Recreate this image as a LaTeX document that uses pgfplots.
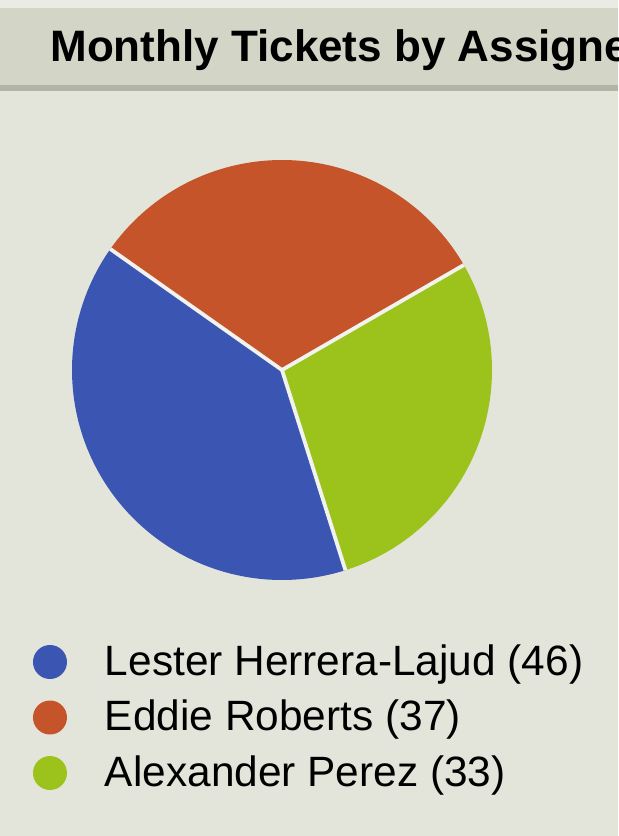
\documentclass[border=0pt]{standalone}
\usepackage{pgfplots}
\pgfplotsset{compat=1.18}
\usepgfplotslibrary{polar}
\usepackage{fontspec}
\setmainfont{Liberation Sans}
\definecolor{bgc}{HTML}{E4E5DA}
\definecolor{hdr}{HTML}{D3D5C6}
\definecolor{topc}{HTML}{EAEBE4}
\definecolor{hline}{HTML}{B2B4A5}
\definecolor{sepc}{HTML}{F2F3EE}
\definecolor{cblue}{HTML}{3B55B3}
\definecolor{corange}{HTML}{C5542B}
\definecolor{cgreen}{HTML}{9BC31C}
\begin{document}
\begin{tikzpicture}[x=1pt,y=1pt]
% background and header (1px = 0.5pt)
\fill[bgc] (0,0) rectangle (309,418);
\fill[topc] (0,414) rectangle (309,418);
\fill[hdr] (0,375.5) rectangle (309,414);
\fill[hline] (0,372.5) rectangle (309,375.5);
\path[use as bounding box] (0,0) rectangle (309,418);
\node[anchor=base west, inner sep=0pt] at (25,387)
  {\fontsize{22}{26}\selectfont\bfseries Monthly Tickets by Assigned};
% data
\def\vL{46}\def\vE{37}\def\vA{33}
\pgfmathsetmacro{\aUnit}{360/(\vL+\vE+\vA)}
\pgfmathsetmacro{\aZero}{30}
\pgfmathsetmacro{\aOne}{\aZero+\aUnit*\vE}
\pgfmathsetmacro{\aTwo}{\aOne+\aUnit*\vL}
\pgfmathsetmacro{\aThree}{\aZero+360}
\begin{polaraxis}[
  at={(141pt,233pt)}, anchor=center,
  hide axis, scale only axis, width=210pt, height=210pt,
  ymin=0, ymax=1, clip=false,
  legend cell align=left,
  legend style={at={(-0.0929,-0.15)}, anchor=north west,
    draw=none, fill=none, inner sep=0pt, outer sep=0pt,
    row sep=6.75pt, column sep=0pt,
    font=\fontsize{21.2}{24}\selectfont,
    nodes={inner sep=0pt, outer sep=0pt, text height=16pt, text depth=5pt}},
]
\addplot[fill=cblue, draw=none, domain=\aOne:\aTwo, samples=120,
  legend image code/.code={\fill[cblue, draw=none] (8.5pt,1pt) circle (8.5pt); \path[draw=none, fill=none] (0pt,0pt) rectangle (36pt,0.1pt);}]
  {1} -- (axis cs:0,0) -- cycle;
\addlegendentry{Lester Herrera-Lajud (46)}
\addplot[fill=corange, draw=none, domain=\aZero:\aOne, samples=120,
  legend image code/.code={\fill[corange, draw=none] (8.5pt,1pt) circle (8.5pt); \path[draw=none, fill=none] (0pt,0pt) rectangle (36pt,0.1pt);}]
  {1} -- (axis cs:0,0) -- cycle;
\addlegendentry{Eddie Roberts (37)}
\addplot[fill=cgreen, draw=none, domain=\aTwo:\aThree, samples=120,
  legend image code/.code={\fill[cgreen, draw=none] (8.5pt,1pt) circle (8.5pt); \path[draw=none, fill=none] (0pt,0pt) rectangle (36pt,0.1pt);}]
  {1} -- (axis cs:0,0) -- cycle;
\addlegendentry{Alexander Perez (33)}
% slice separators
\addplot[forget plot, draw=sepc, line width=1.9pt] coordinates {(\aZero,0) (\aZero,1)};
\addplot[forget plot, draw=sepc, line width=1.9pt] coordinates {(\aOne,0) (\aOne,1)};
\addplot[forget plot, draw=sepc, line width=1.9pt] coordinates {(\aTwo,0) (\aTwo,1)};
\end{polaraxis}
\end{tikzpicture}
\end{document}
